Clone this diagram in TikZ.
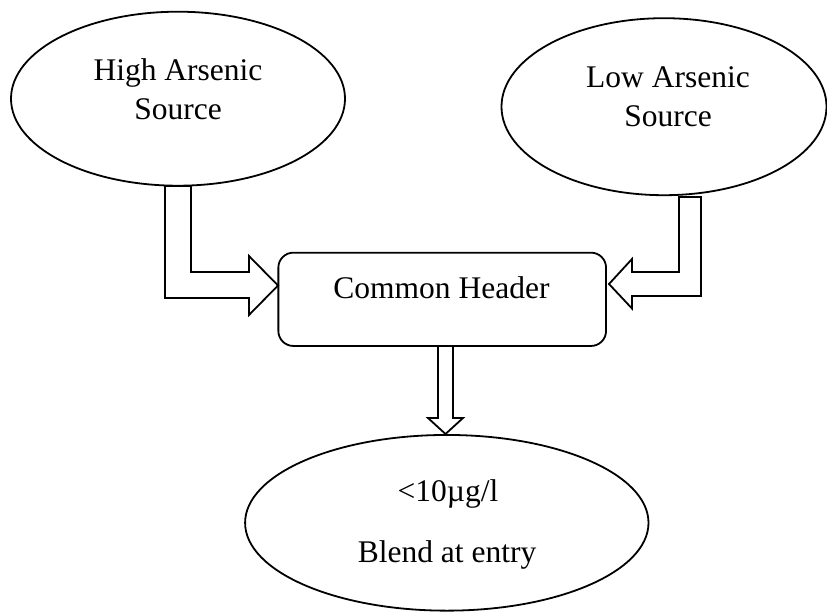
\documentclass[tikz,border=0pt]{standalone}
\usepackage{fontspec}
\setmainfont{Liberation Serif}
\usetikzlibrary{shapes.geometric}
\tikzset{
  oval/.style={draw, ellipse, line width=1.8pt, inner sep=0pt},
  hdrbox/.style={draw, rectangle, rounded corners=15pt, line width=1.8pt, inner sep=0pt},
  lbl/.style={font=\fontsize{31.5}{38}\selectfont, anchor=base, inner sep=0pt},
  blockarrow/.style={draw, line width=1.8pt, fill=white, line join=miter}
}
\begin{document}
\begin{tikzpicture}[x=1pt, y=-1pt]
\useasboundingbox (0,0) rectangle (827,613);
% sources
\node[oval, minimum width=334pt, minimum height=174pt] (hi) at (178,98.7) {};
\node[oval, minimum width=325pt, minimum height=177pt] (lo) at (664,106.7) {};
\node[hdrbox, minimum width=327.7pt, minimum height=93.3pt] (hdr) at (442.2,299.3) {};
\node[oval, minimum width=403.4pt, minimum height=175.7pt] (out) at (446.8,522.8) {};
% texts
\node[lbl] (t1) at (178,80) {High Arsenic};
\node[lbl] (t2) at (178,119) {Source};
\node[lbl] (t3) at (668,87.7) {Low Arsenic};
\node[lbl] (t4) at (668,126.7) {Source};
\node[lbl] (t5) at (441.5,298.3) {Common Header};
\node[lbl] (t6) at (448,501.7) {<10µg/l};
\node[lbl] (t7) at (447,562.7) {Blend at entry};
% block arrows
\draw[blockarrow] (165,186) -- (191,186) -- (191,272) -- (249,272) -- (249,256)
  -- (278,285.5) -- (249,315) -- (249,298) -- (165,298) -- cycle;
\draw[blockarrow] (679,197) -- (701,197) -- (701,296) -- (632,296) -- (632,308.5)
  -- (609,284) -- (632,259) -- (632,272) -- (679,272) -- cycle;
\draw[blockarrow] (438,346) -- (453,346) -- (453,418) -- (463,418)
  -- (445.5,434) -- (428,418) -- (438,418) -- cycle;
\end{tikzpicture}
\end{document}
